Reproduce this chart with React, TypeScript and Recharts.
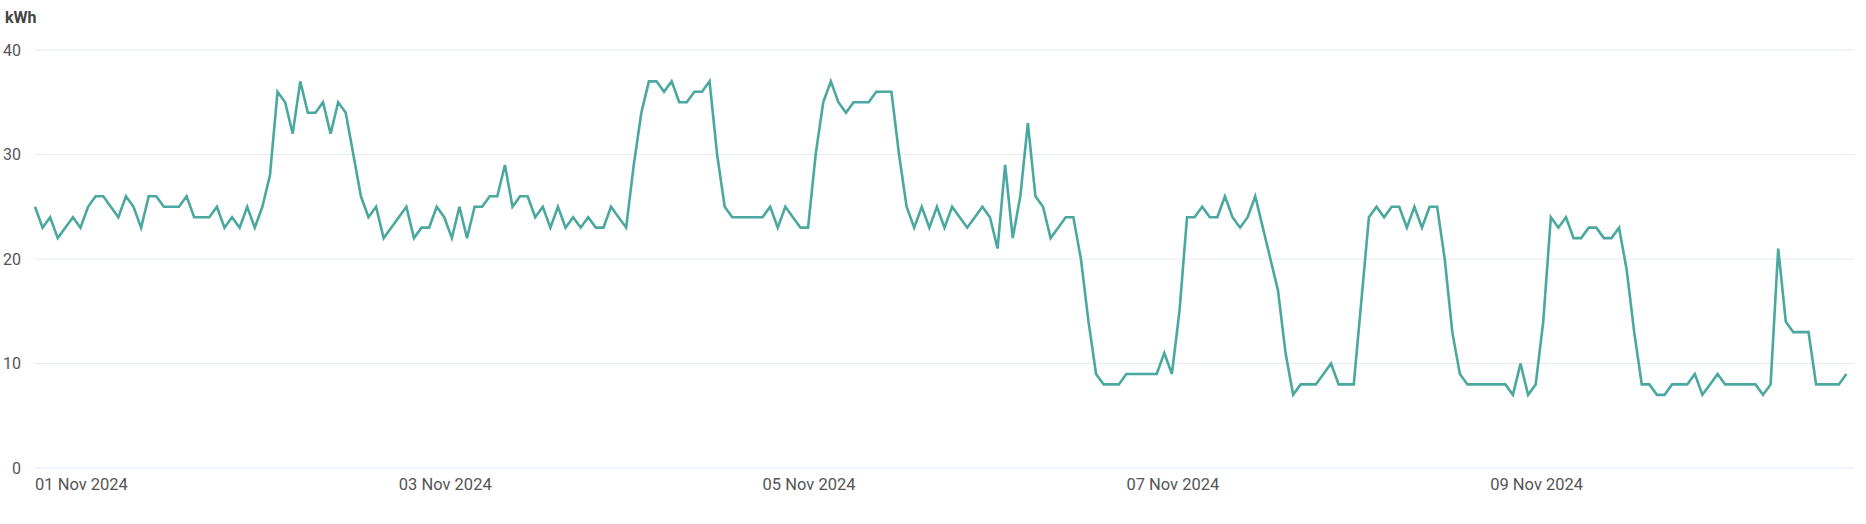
import React from "react";
import { CartesianGrid, Line, LineChart, XAxis, YAxis } from "recharts";

// hourly readings, 01 Nov 2024 00:00 -> 10 Nov 2024 23:00
const day1 = [25, 23, 24, 22, 23, 24, 23, 25, 26, 26, 25, 24, 26, 25, 23, 26, 26, 25, 25, 25, 26, 24, 24, 24];
const day2 = [25, 23, 24, 23, 25, 23, 25, 28, 36, 35, 32, 37, 34, 34, 35, 32, 35, 34, 30, 26, 24, 25, 22, 23];
const day3 = [24, 25, 22, 23, 23, 25, 24, 22, 25, 22, 25, 25, 26, 26, 29, 25, 26, 26, 24, 25, 23, 25, 23, 24];
const day4 = [23, 24, 23, 23, 25, 24, 23, 29, 34, 37, 37, 36, 37, 35, 35, 36, 36, 37, 30, 25, 24, 24, 24, 24];
const day5 = [24, 25, 23, 25, 24, 23, 23, 30, 35, 37, 35, 34, 35, 35, 35, 36, 36, 36, 30, 25, 23, 25, 23, 25];
const day6 = [23, 25, 24, 23, 24, 25, 24, 21, 29, 22, 26, 33, 26, 25, 22, 23, 24, 24, 20, 14, 9, 8, 8, 8];
const day7 = [9, 9, 9, 9, 9, 11, 9, 15, 24, 24, 25, 24, 24, 26, 24, 23, 24, 26, 23, 20, 17, 11, 7, 8];
const day8 = [8, 8, 9, 10, 8, 8, 8, 16, 24, 25, 24, 25, 25, 23, 25, 23, 25, 25, 20, 13, 9, 8, 8, 8];
const day9 = [8, 8, 8, 7, 10, 7, 8, 14, 24, 23, 24, 22, 22, 23, 23, 22, 22, 23, 19, 13, 8, 8, 7, 7];
const day10 = [8, 8, 8, 9, 7, 8, 9, 8, 8, 8, 8, 8, 7, 8, 21, 14, 13, 13, 13, 8, 8, 8, 8, 9];

const consumption = [...day1, ...day2, ...day3, ...day4, ...day5, ...day6, ...day7, ...day8, ...day9, ...day10];

const yTicks = [0, 10, 20, 30, 40];
const xTickDays = [1, 3, 5, 7, 9];

const HOUR = 3600 * 1000;
const start = Date.UTC(2024, 10, 1);
const end = start + 240 * HOUR;

const data = consumption.map((kwh, i) => ({ time: start + i * HOUR, kwh }));
const xTicks = xTickDays.map((d) => Date.UTC(2024, 10, d));

const fmtDate = (t: number) => {
  const d = new Date(t);
  return `${String(d.getUTCDate()).padStart(2, "0")} Nov ${d.getUTCFullYear()}`;
};

const DateTick = (props: any) => {
  const { x, y, payload } = props;
  return (
    <text x={x} y={y + 14} textAnchor="start" fill="#555" fontSize={16.5} fontFamily="Roboto">
      {fmtDate(payload.value)}
    </text>
  );
};

const App = () => {
  return (
    <div style={{ position: "absolute", left: 0, top: 0, fontFamily: "Roboto" }}>
      <LineChart width={1866} height={524} data={data} margin={{ top: 50, right: 12, left: 0, bottom: 26 }}>
        <text x={5} y={23} fill="#444" fontSize={16} fontWeight="bold" fontFamily="Roboto">
          kWh
        </text>
        <CartesianGrid vertical={false} stroke="#e3eaf3" />
        <XAxis
          dataKey="time"
          type="number"
          domain={[start, end]}
          ticks={xTicks}
          interval={0}
          tick={<DateTick />}
          axisLine={false}
          tickLine={false}
          height={30}
        />
        <YAxis
          domain={[0, 40]}
          ticks={yTicks}
          width={35}
          axisLine={false}
          tickLine={false}
          tick={{ fill: "#555", fontSize: 16, fontFamily: "Roboto" }}
          tickMargin={8}
        />
        <Line
          type="linear"
          dataKey="kwh"
          stroke="#4aa89f"
          strokeWidth={2.6}
          dot={false}
          isAnimationActive={false}
        />
      </LineChart>
    </div>
  );
};

export default App;
